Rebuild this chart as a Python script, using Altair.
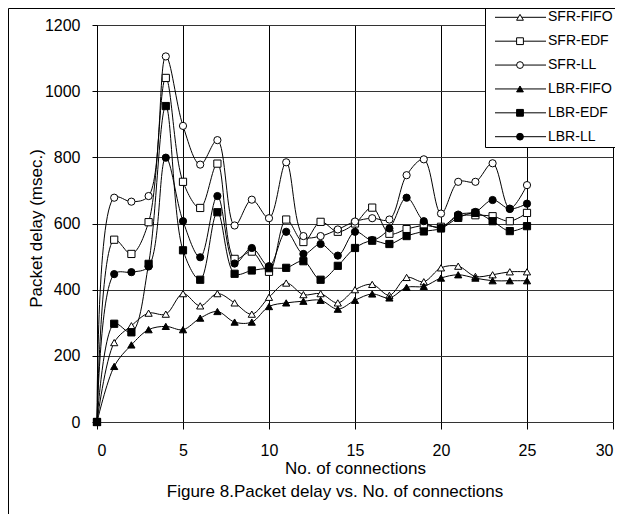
import altair as alt
import pandas as pd

connections = list(range(0, 26))
series_names = ["SFR-FIFO", "SFR-EDF", "SFR-LL", "LBR-FIFO", "LBR-EDF", "LBR-LL"]

sfr_fifo = [0, 240, 291, 329, 326, 388, 351, 388, 360, 326, 377, 420, 385, 388, 360, 400, 416, 383, 437, 424, 466, 471, 440, 445, 454, 454]
sfr_edf = [0, 551, 508, 604, 1040, 726, 647, 781, 493, 515, 454, 612, 544, 605, 575, 600, 648, 569, 583, 594, 590, 622, 625, 622, 607, 632]
sfr_ll = [0, 678, 666, 683, 1105, 895, 778, 852, 594, 672, 616, 785, 562, 562, 582, 606, 616, 612, 746, 794, 630, 726, 726, 782, 645, 716]
lbr_fifo = [0, 168, 233, 279, 289, 279, 314, 334, 302, 302, 349, 360, 365, 368, 341, 368, 387, 375, 407, 410, 435, 445, 435, 427, 427, 427]
lbr_edf = [0, 297, 271, 478, 955, 519, 430, 634, 448, 458, 465, 466, 486, 430, 472, 526, 548, 538, 562, 576, 585, 617, 632, 607, 577, 592]
lbr_ll = [0, 447, 453, 470, 799, 607, 498, 683, 479, 526, 471, 575, 508, 538, 503, 575, 550, 585, 678, 607, 587, 627, 635, 671, 644, 660]

x_ticks = [0, 5, 10, 15, 20, 25, 30]
y_ticks = [0, 200, 400, 600, 800, 1000, 1200]
shapes = ["triangle-up", "square", "circle", "triangle-up", "square", "circle"]
fills = ["white", "white", "white", "black", "black", "black"]
caption = "Figure 8.Packet delay vs. No. of connections"

values = [sfr_fifo, sfr_edf, sfr_ll, lbr_fifo, lbr_edf, lbr_ll]
rows = []
for name, vals in zip(series_names, values):
    for c, v in zip(connections, vals):
        rows.append({"series": name, "conn": c, "delay": v})
df = pd.DataFrame(rows)
legend_df = pd.DataFrame({"series": series_names})
one = pd.DataFrame({"k": [0]})

FONT = "Liberation Sans"

shape_enc = alt.Shape("series:N", scale=alt.Scale(domain=series_names, range=shapes), legend=None)
fill_enc = alt.Fill("series:N", scale=alt.Scale(domain=series_names, range=fills), legend=None)

x_enc = alt.X("conn:Q", scale=alt.Scale(domain=[0, 30], nice=False),
              axis=alt.Axis(values=x_ticks, format="d", grid=True, gridColor="#000", gridWidth=1,
                            tickColor="#000", tickSize=7, domain=False,
                            labelFontSize=16, labelPadding=13, labelFont=FONT, labelColor="#000",
                            title="No. of connections", titleFontSize=17, titleFont=FONT,
                            titleFontWeight="normal", titleColor="#000",
                            titleX=258, titleY=46, titleBaseline="middle"))
y_enc = alt.Y("delay:Q", scale=alt.Scale(domain=[0, 1200], nice=False),
              axis=alt.Axis(values=y_ticks, format="d", grid=True, gridColor="#333", gridWidth=1,
                            tickColor="#000", tickSize=5, domainColor="#000", domainWidth=1,
                            labelFontSize=16, labelPadding=12, labelFont=FONT, labelColor="#000",
                            title="Packet delay (msec.)", titleFontSize=17, titleFont=FONT,
                            titleFontWeight="normal", titleColor="#000",
                            titleX=-61, titleY=203, titleBaseline="middle"))

lines = alt.Chart(df).mark_line(color="black", strokeWidth=1, interpolate="catmull-rom").encode(
    x=x_enc, y=y_enc, detail="series:N")
points = alt.Chart(df).mark_point(stroke="black", strokeWidth=1, size=52, opacity=1, filled=False).encode(
    x="conn:Q", y="delay:Q", shape=shape_enc, fill=fill_enc)

legend_box = alt.Chart(one).mark_rect(fill="white", stroke="black", strokeWidth=1).encode(
    x=alt.value(388.5), x2=alt.value(700), y=alt.value(-16.5), y2=alt.value(122.5))

leg_y = alt.Y("series:N", scale=alt.Scale(type="point", domain=series_names, range=[-7.7, 111.7], padding=0), axis=None)
legend_lines = alt.Chart(legend_df).mark_rule(color="black", strokeWidth=1).encode(
    x=alt.value(398), x2=alt.value(449), y=leg_y)
legend_pts = alt.Chart(legend_df).mark_point(stroke="black", strokeWidth=1, size=46, opacity=1, filled=False).encode(
    x=alt.value(423), y=leg_y, shape=shape_enc, fill=fill_enc)
legend_txt = alt.Chart(legend_df).mark_text(align="left", baseline="middle", fontSize=14, font=FONT, color="black").encode(
    x=alt.value(451), y=leg_y, text="series:N")

frame = alt.Chart(one).mark_rect(fillOpacity=0, stroke="black", strokeWidth=1).encode(
    x=alt.value(-88.5), x2=alt.value(800), y=alt.value(-16.5), y2=alt.value(800))

cap = alt.Chart(one).mark_text(text=caption, align="center", baseline="middle", fontSize=17, font=FONT, color="black").encode(
    x=alt.value(238), y=alt.value(467))

main = alt.layer(lines, points)
leg = alt.layer(legend_box, legend_lines, legend_pts, legend_txt)

chart = alt.layer(main, leg, frame, cap).resolve_scale(y="independent").properties(
    width=516, height=397,
    autosize=alt.AutoSizeParams(type="none"),
    padding={"left": 89, "top": 17, "right": 2, "bottom": 92},
).configure_view(stroke="#808080", strokeWidth=2).configure(background="white")

chart.save("out.html", embed_options={"renderer": "svg", "actions": False})
